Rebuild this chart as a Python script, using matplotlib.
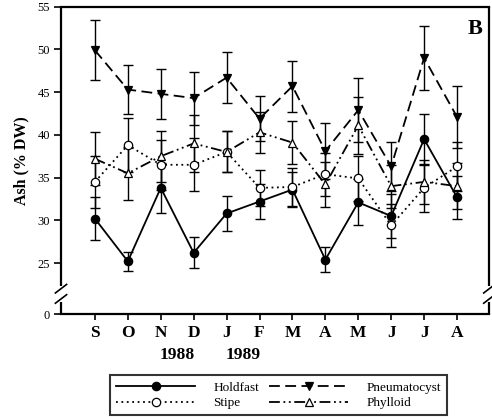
import matplotlib
matplotlib.use("Agg")
import matplotlib.pyplot as plt
from matplotlib.lines import Line2D

months = ['S', 'O', 'N', 'D', 'J', 'F', 'M', 'A', 'M', 'J', 'J', 'A']
years = ['1988', '1989']
year_pos = [2.5, 4.5]

holdfast = [30.2, 25.2, 33.8, 26.2, 30.8, 32.2, 33.6, 25.4, 32.1, 30.5, 39.5, 32.7]
holdfast_err = [2.5, 1.1, 2.9, 1.8, 2.0, 2.0, 2.0, 1.5, 2.7, 2.6, 3.0, 2.5]
stipe = [34.5, 38.8, 36.5, 36.5, 38.0, 33.8, 33.9, 35.4, 34.9, 29.4, 33.8, 36.3]
stipe_err = [3.0, 3.2, 2.9, 3.1, 2.4, 2.1, 2.2, 2.5, 2.6, 2.5, 2.8, 2.9]
pneumatocyst = [49.9, 45.3, 44.8, 44.3, 46.7, 41.9, 45.7, 38.1, 42.9, 36.3, 49.0, 42.1]
pneumatocyst_err = [3.5, 2.9, 2.9, 3.1, 3.0, 2.65, 3.0, 3.3, 3.7, 2.9, 3.7, 3.6]
phylloid = [37.2, 35.5, 37.5, 39.0, 38.0, 40.3, 39.1, 34.2, 41.1, 34.0, 34.5, 34.0]
phylloid_err = [3.1, 3.1, 3.0, 3.3, 2.4, 2.4, 2.5, 2.6, 3.3, 2.5, 2.6, 2.7]

y_ticks = [19.0, 25, 30, 35, 40, 45, 50, 55]
y_ticklabels = ['0', '25', '30', '35', '40', '45', '50', '55']

plt.rcParams['font.family'] = ['Liberation Serif', 'DejaVu Serif']

fig = plt.figure(figsize=(4.92, 4.18), dpi=100)
ax = fig.add_axes([0.124, 0.248, 0.8705, 0.736])

x = list(range(len(months)))
lw = 1.3
series = [
    ('Holdfast', holdfast, holdfast_err, '-', 'o', 'black'),
    ('Stipe', stipe, stipe_err, (0, (1, 2)), 'o', 'white'),
    ('Pneumatocyst', pneumatocyst, pneumatocyst_err, (0, (6, 3)), 'v', 'black'),
    ('Phylloid', phylloid, phylloid_err, (0, (6, 2, 1, 2, 1, 2)), '^', 'white'),
]
handles = []
for name, vals, errs, ls, mk, fc in series:
    ax.errorbar(x, vals, yerr=errs, fmt='none', ecolor='black', elinewidth=1.0,
                capsize=3.8, capthick=1.0, zorder=2)
    ax.plot(x, vals, linestyle=ls, color='black', lw=lw, zorder=3)
    ax.plot(x, vals, linestyle='none', marker=mk, markersize=6,
            markerfacecolor=fc, markeredgecolor='black', markeredgewidth=0.9, zorder=4)
    handles.append(Line2D([0], [0], linestyle=ls, color='black', lw=lw, marker=mk,
                          markersize=6, markerfacecolor=fc, markeredgecolor='black',
                          markeredgewidth=0.9, label=name))

ax.set_xlim(-1.03, 11.98)
ax.set_ylim(19.0, 55)
ax.set_xticks(x)
ax.set_xticklabels(months, fontsize=12.5, fontweight='bold')
ax.set_yticks(y_ticks)
ax.set_yticklabels(y_ticklabels, fontsize=9)
ax.tick_params(axis='x', direction='out', length=4, width=1.2, pad=4)
ax.tick_params(axis='y', direction='out', length=5, width=1.2, pad=3)
ax.set_ylabel('Ash (% DW)', fontsize=11.5, fontweight='bold', labelpad=6)

for s in ['top', 'bottom']:
    ax.spines[s].set_linewidth(1.6)
ax.spines['left'].set_visible(False)
ax.spines['right'].set_visible(False)

# broken side spines
xl, xr = ax.get_xlim()
for xs in (xl, xr):
    ax.plot([xs, xs], [22.3, 55], color='black', lw=1.6, clip_on=False, zorder=5,
            solid_capstyle='butt')
    ax.plot([xs, xs], [19.0, 20.4], color='black', lw=1.6, clip_on=False, zorder=5,
            solid_capstyle='butt')
    dx = 0.17
    ax.plot([xs - dx, xs + dx], [21.5, 22.5], color='black', lw=1.2, clip_on=False, zorder=5)
    ax.plot([xs - dx, xs + dx], [20.3, 21.3], color='black', lw=1.2, clip_on=False, zorder=5)

for yp, yr in zip(year_pos, years):
    ax.text(yp, 19.0 - 4.8, yr, ha='center', va='center', fontsize=12.5,
            fontweight='bold', clip_on=False)

ax.text(11.55, 52.4, 'B', ha='center', va='center', fontsize=16, fontweight='bold')

leg = fig.legend(handles=handles, ncol=2, loc='lower left',
                 bbox_to_anchor=(0.2236, 0.007, 0.685, 0.103), mode='expand',
                 frameon=True, fancybox=False, edgecolor='black', fontsize=9.5,
                 handlelength=6.0, handletextpad=1.4, columnspacing=1.5,
                 labelspacing=0.25, borderpad=0.45, borderaxespad=0)
leg.get_frame().set_linewidth(1.5)

fig.savefig('out.png', dpi=100)
